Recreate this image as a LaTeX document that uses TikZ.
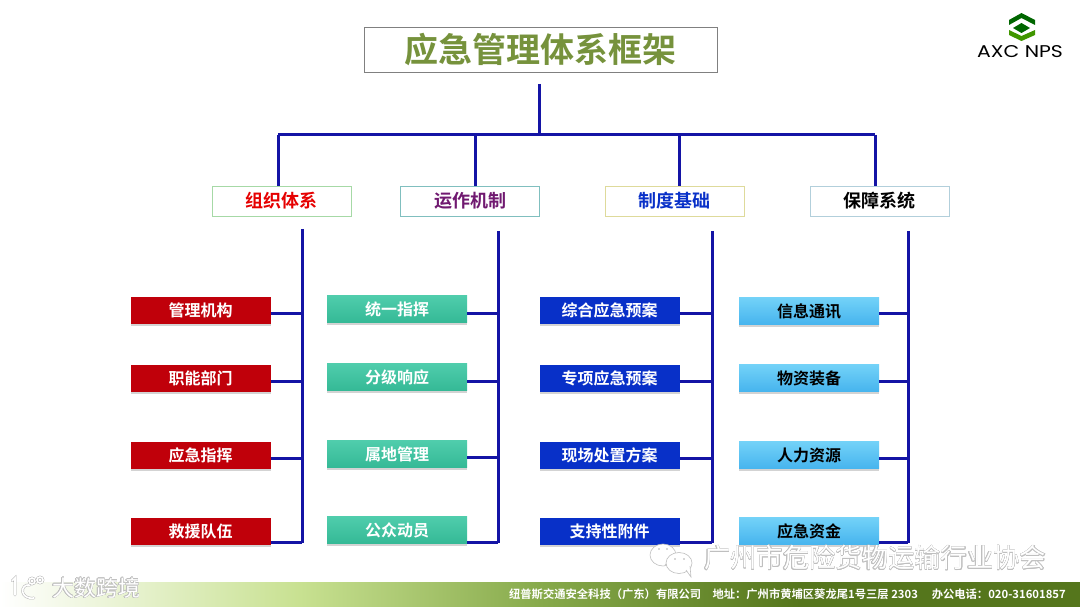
\documentclass[tikz,border=0pt]{standalone}
\usepackage{fontspec}
\usepackage[copies]{contour}
\setmainfont{Noto Sans CJK SC}[BoldFont={Noto Sans CJK SC Bold}]
\newfontfamily\logofont{Poppins}
\usetikzlibrary{shadows}
\contourlength{0.3pt}
\definecolor{railblue}{RGB}{20,20,165}
\definecolor{titlegreen}{RGB}{118,146,60}
\definecolor{itemred}{RGB}{192,0,10}
\definecolor{itemblue}{RGB}{8,48,200}
\definecolor{tealtop}{RGB}{80,205,172}
\definecolor{tealend}{RGB}{52,185,150}
\definecolor{skytop}{RGB}{115,210,248}
\definecolor{skyend}{RGB}{70,180,238}
\definecolor{bandlight}{RGB}{200,225,145}
\definecolor{bandmid}{RGB}{135,170,75}
\definecolor{banddark}{RGB}{85,118,28}
\tikzset{
    rail/.style={draw=railblue,line width=3pt},
    headbox/.style={draw,minimum width=139pt,minimum height=30pt,inner sep=0pt,font=\bfseries\fontsize{18}{18}\selectfont},
    itembox/.style={minimum width=140pt,minimum height=27pt,inner sep=0pt,text=white,font=\bfseries\fontsize{16}{16}\selectfont,
        drop shadow={shadow xshift=0pt,shadow yshift=-2pt,opacity=.35}},
    redbox/.style={itembox,fill=itemred},
    greenbox/.style={itembox,top color=tealtop,bottom color=tealend},
    bluebox/.style={itembox,fill=itemblue},
    skybox/.style={itembox,top color=skytop,bottom color=skyend,text=black},
    faint/.style={draw=gray!50,fill=white,line width=.6pt},
    faintline/.style={draw=gray!60,double=white,double distance=1.6pt,line width=.5pt,line cap=round}
}
\begin{document}
\begin{tikzpicture}[x=1pt,y=-1pt]
    \useasboundingbox (0,0) rectangle (1080,607);

    % footer band
    \shade[left color=white,right color=bandlight] (0,582) rectangle (300,607);
    \shade[left color=bandlight,right color=bandmid] (300,582) rectangle (540,607);
    \shade[left color=bandmid,right color=banddark] (540,582) rectangle (800,607);
    \fill[banddark] (800,582) rectangle (1080,607);

    % title
    \node[draw=gray,minimum width=353pt,minimum height=45pt,text=titlegreen,font=\bfseries\fontsize{34}{34}\selectfont] (title) at (540.5,49.5) {应急管理体系框架};
    \coordinate (top) at (539,84);
    \coordinate (hub) at (539,135);

    % heads
    \node[headbox,draw=green!40!gray!50,text=red!90!black] (org) at (281.5,201) {组织体系};
    \node[headbox,draw=teal!50,text=violet!75!black!90] (ops) at (470,201) {运作机制};
    \node[headbox,draw=yellow!50!gray!60,text=itemblue] (sys) at (674.5,201) {制度基础};
    \node[headbox,draw=cyan!40!gray!50,text=black] (sup) at (879.5,201) {保障系统};

    \coordinate (orgdrop) at (278,135);
    \coordinate (opsdrop) at (475,135);
    \coordinate (sysdrop) at (679,135);
    \coordinate (supdrop) at (875,135);

    \draw[rail] (top) -- (hub);
    \draw[rail] (orgdrop) -- (supdrop);
    \draw[rail] (orgdrop) -- (orgdrop |- org.north);
    \draw[rail] (opsdrop) -- (opsdrop |- ops.north);
    \draw[rail] (sysdrop) -- (sysdrop |- sys.north);
    \draw[rail] (supdrop) -- (supdrop |- sup.north);

    % rails
    \coordinate (orgtop) at (302,229);
    \coordinate (orgend) at (302,543);
    \coordinate (opstop) at (498,231);
    \coordinate (opsend) at (498,543);
    \coordinate (systop) at (712,231);
    \coordinate (sysend) at (712,543);
    \coordinate (suptop) at (908,231);
    \coordinate (supend) at (908,543);
    \draw[rail] (orgtop) -- (orgend);
    \draw[rail] (opstop) -- (opsend);
    \draw[rail] (systop) -- (sysend);
    \draw[rail] (suptop) -- (supend);

    % items
    \node[redbox] (orga) at (200.5,310) {管理机构};
    \node[redbox] (orgb) at (200.5,378) {职能部门};
    \node[redbox] (orgc) at (200.5,455) {应急指挥};
    \node[redbox] (orgd) at (200.5,531) {救援队伍};
    \node[greenbox] (opsa) at (397,309) {统一指挥};
    \node[greenbox] (opsb) at (397,377) {分级响应};
    \node[greenbox] (opsc) at (397,454) {属地管理};
    \node[greenbox] (opsd) at (397,530) {公众动员};
    \node[bluebox] (sysa) at (609.5,310) {综合应急预案};
    \node[bluebox] (sysb) at (609.5,378) {专项应急预案};
    \node[bluebox] (sysc) at (609.5,455) {现场处置方案};
    \node[bluebox] (sysd) at (609.5,531) {支持性附件};
    \node[skybox] (supa) at (809,311) {信息通讯};
    \node[skybox] (supb) at (809,378) {物资装备};
    \node[skybox] (supc) at (809,455) {人力资源};
    \node[skybox] (supd) at (809,531) {应急资金};

    % connectors
    \draw[rail] ([yshift=-3pt]orga.east) -- ([yshift=-3pt]orga.east -| orgtop);
    \draw[rail] ([yshift=-3pt]orgb.east) -- ([yshift=-3pt]orgb.east -| orgtop);
    \draw[rail] ([yshift=-3pt]orgc.east) -- ([yshift=-3pt]orgc.east -| orgtop);
    \draw[rail] ([yshift=-11pt]orgd.east) -- ([yshift=-11pt]orgd.east -| orgtop);
    \draw[rail] ([yshift=-4pt]opsa.east) -- ([yshift=-4pt]opsa.east -| opstop);
    \draw[rail] ([yshift=-4pt]opsb.east) -- ([yshift=-4pt]opsb.east -| opstop);
    \draw[rail] ([yshift=-3pt]opsc.east) -- ([yshift=-3pt]opsc.east -| opstop);
    \draw[rail] ([yshift=-12pt]opsd.east) -- ([yshift=-12pt]opsd.east -| opstop);
    \draw[rail] ([yshift=-3pt]sysa.east) -- ([yshift=-3pt]sysa.east -| systop);
    \draw[rail] ([yshift=-3pt]sysb.east) -- ([yshift=-3pt]sysb.east -| systop);
    \draw[rail] ([yshift=-3pt]sysc.east) -- ([yshift=-3pt]sysc.east -| systop);
    \draw[rail] ([yshift=-11pt]sysd.east) -- ([yshift=-11pt]sysd.east -| systop);
    \draw[rail] ([yshift=-2pt]supa.east) -- ([yshift=-2pt]supa.east -| suptop);
    \draw[rail] ([yshift=-3pt]supb.east) -- ([yshift=-3pt]supb.east -| suptop);
    \draw[rail] ([yshift=-3pt]supc.east) -- ([yshift=-3pt]supc.east -| suptop);
    \draw[rail] ([yshift=-11pt]supd.east) -- ([yshift=-11pt]supd.east -| suptop);

    % logo
    \fill[green!40!black] (1009,20) -- (1021.5,13) -- (1035,20) -- (1035,25) -- (1021.5,18) -- (1009,25) -- cycle;
    \fill[green!40!black] (1013,28) -- (1021.5,23) -- (1030,28) -- (1021.5,33) -- cycle;
    \fill[green!45!black!75!yellow] (1009,30) -- (1021.5,36) -- (1035,30) -- (1035,35) -- (1021.5,41) -- (1009,35) -- cycle;
    \node[font=\logofont\fontsize{17}{17}\selectfont,inner sep=0pt,xscale=1.2] (brand) at (1020,52) {AXC NPS};

    % footer text
    \node[anchor=east,inner sep=0pt,text=white,font=\bfseries\fontsize{11.3}{12}\selectfont] (contact) at (1066,594.5) {纽普斯交通安全科技（广东）有限公司\quad 地址：广州市黄埔区葵龙尾1号三层 2303\quad\ 办公电话：020-31601857};

    % watermarks
    \draw[faint] (663,555) ellipse (13pt and 11pt);
    \draw[faint] (665,564) -- (672,569) -- (668,560);
    \fill[gray!60] (659,549) circle (.8pt) (667,549) circle (.8pt);
    \draw[faint] (679,563) ellipse (13pt and 10.5pt);
    \draw[faint] (686,570) -- (691,577) -- (690,566);
    \fill[gray!60] (675,559) circle (.8pt) (684,559) circle (.8pt);
    \node[anchor=west,inner sep=0pt,font=\fontsize{26.3}{27}\selectfont] (assoc) at (704,558) {\contour{gray!50}{\textcolor{white}{广州市危险货物运输行业协会}}};
    \node[anchor=west,inner sep=0pt,font=\fontsize{22}{22}\selectfont] (source) at (52,588) {\contour{gray!50}{\textcolor{white}{大数跨境}}};
    \draw[faintline] (12,581) -- (15,578) -- (15,595);
    \draw[faintline] (30,585) .. controls (20,583) and (19,600) .. (34,598);
    \draw[faintline] (32,581) circle (3pt);
    \draw[faintline] (40,580) circle (3pt);
\end{tikzpicture}
\end{document}
